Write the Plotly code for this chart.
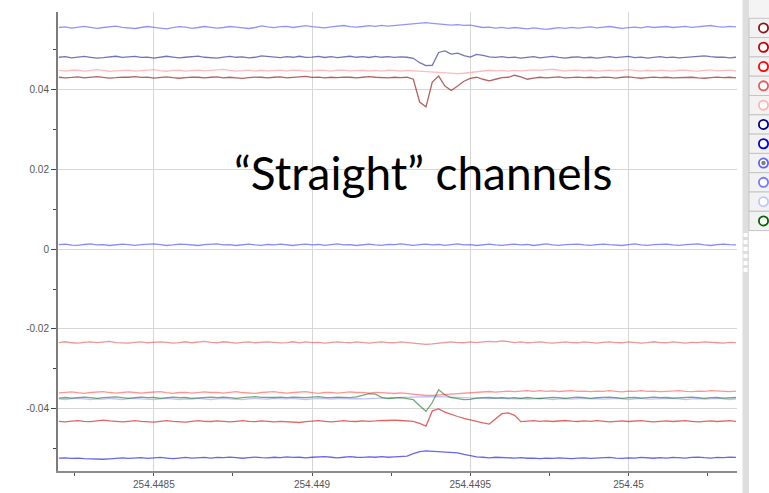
import numpy as np
import plotly.graph_objects as go

# sample times (shared by every channel)
t_start = 254.44820
t_step = 0.00002
n_samples = 108
t = t_start + t_step * np.arange(n_samples)

# channel readings, top of the plot to bottom
ch_lightblue = [
    .05545, .05560, .05530, .05550, .05575, .05550, .05525, .05545, .05565, .05580, .05550, .05540,
    .05520, .05545, .05570, .05550, .05525, .05510, .05540, .05565, .05555, .05525, .05545, .05570,
    .05550, .05530, .05545, .05570, .05555, .05540, .05520, .05545, .05585, .05560, .05540, .05565,
    .05575, .05545, .05560, .05590, .05565, .05550, .05535, .05560, .05575, .05595, .05565, .05555,
    .05570, .05590, .05575, .05600, .05580, .05595, .05605, .05625, .05640, .05655, .05665, .05650,
    .05630, .05620, .05605, .05615, .05600, .05605, .05570, .05545, .05555, .05530, .05550, .05525,
    .05545, .05530, .05510, .05535, .05515, .05500, .05520, .05540, .05525, .05550, .05530, .05545,
    .05560, .05535, .05550, .05570, .05545, .05525, .05540, .05555, .05535, .05565, .05545, .05550,
    .05570, .05545, .05565, .05575, .05550, .05570, .05580, .05595, .05565, .05555, .05575, .05560,
]
ch_navy = [
    .04800, .04815, .04785, .04795, .04820, .04800, .04780, .04790, .04810, .04825, .04795, .04800,
    .04820, .04795, .04805, .04780, .04800, .04825, .04805, .04785, .04800, .04810, .04830, .04800,
    .04795, .04780, .04805, .04820, .04800, .04810, .04785, .04800, .04835, .04815, .04800, .04790,
    .04815, .04800, .04825, .04795, .04805, .04820, .04795, .04815, .04790, .04805, .04825, .04800,
    .04815, .04795, .04820, .04800, .04815, .04795, .04810, .04800, .04775, .04665, .04590, .04600,
    .04920, .04960, .04880, .04905, .04840, .04805, .04870, .04845, .04810, .04795, .04815, .04790,
    .04805, .04780, .04800, .04815, .04785, .04800, .04820, .04795, .04780, .04800, .04810, .04785,
    .04800, .04780, .04805, .04815, .04790, .04800, .04820, .04790, .04805, .04780, .04800, .04815,
    .04790, .04805, .04785, .04800, .04815, .04825, .04835, .04815, .04800, .04805, .04785, .04800,
]
ch_pink = [
    .04470, .04455, .04475, .04480, .04455, .04465, .04490, .04470, .04450, .04460, .04475, .04480,
    .04455, .04470, .04475, .04490, .04465, .04450, .04470, .04480, .04455, .04465, .04480, .04460,
    .04470, .04480, .04495, .04470, .04455, .04465, .04480, .04455, .04475, .04460, .04470, .04480,
    .04460, .04475, .04470, .04455, .04460, .04480, .04470, .04455, .04475, .04480, .04460, .04470,
    .04475, .04460, .04470, .04455, .04475, .04470, .04455, .04470, .04460, .04455, .04445, .04435,
    .04420, .04400, .04390, .04390, .04400, .04420, .04440, .04460, .04475, .04460, .04470, .04455,
    .04470, .04460, .04475, .04485, .04470, .04490, .04500, .04475, .04460, .04470, .04480, .04460,
    .04475, .04455, .04470, .04480, .04460, .04470, .04490, .04470, .04455, .04475, .04460, .04480,
    .04470, .04455, .04475, .04480, .04460, .04455, .04470, .04485, .04460, .04475, .04480, .04460,
]
ch_darkred = [
    .04300, .04285, .04295, .04310, .04285, .04300, .04315, .04295, .04280, .04290, .04305, .04300,
    .04315, .04295, .04305, .04280, .04300, .04310, .04290, .04275, .04290, .04305, .04300, .04285,
    .04300, .04310, .04285, .04300, .04285, .04270, .04290, .04305, .04300, .04285, .04300, .04310,
    .04285, .04300, .04310, .04320, .04295, .04305, .04285, .04300, .04290, .04305, .04300, .04285,
    .04300, .04315, .04300, .04295, .04285, .04300, .04290, .04300, .04250, .03680, .03560, .04180,
    .04330, .04080, .03970, .04080, .04200, .04270, .04300, .04250, .04210, .04250, .04290, .04300,
    .04350, .04310, .04250, .04280, .04300, .04285, .04300, .04310, .04285, .04300, .04305, .04290,
    .04300, .04285, .04305, .04295, .04280, .04300, .04310, .04290, .04275, .04290, .04305, .04290,
    .04300, .04285, .04290, .04305, .04300, .04285, .04275, .04290, .04305, .04290, .04300, .04285,
]
ch_midblue = [
    .00110, .00125, .00100, .00095, .00115, .00130, .00105, .00110, .00090, .00105, .00125, .00110,
    .00095, .00110, .00115, .00130, .00110, .00090, .00105, .00125, .00120, .00105, .00090, .00110,
    .00115, .00130, .00105, .00110, .00090, .00110, .00125, .00105, .00095, .00115, .00105, .00125,
    .00110, .00090, .00110, .00125, .00105, .00115, .00095, .00110, .00130, .00105, .00110, .00090,
    .00110, .00125, .00105, .00095, .00115, .00110, .00130, .00110, .00095, .00110, .00125, .00105,
    .00115, .00095, .00110, .00130, .00105, .00110, .00090, .00115, .00125, .00105, .00095, .00110,
    .00125, .00105, .00115, .00090, .00110, .00130, .00105, .00095, .00110, .00115, .00125, .00105,
    .00095, .00110, .00125, .00110, .00105, .00090, .00110, .00130, .00105, .00095, .00110, .00115,
    .00125, .00105, .00095, .00110, .00115, .00130, .00105, .00090, .00110, .00125, .00110, .00105,
]
ch_salmon = [
    -.02340, -.02320, -.02345, -.02355, -.02335, -.02320, -.02340, -.02325, -.02310, -.02340, -.02345, -.02355,
    -.02335, -.02320, -.02345, -.02340, -.02320, -.02335, -.02355, -.02340, -.02320, -.02345, -.02325, -.02310,
    -.02335, -.02345, -.02320, -.02340, -.02355, -.02335, -.02320, -.02345, -.02340, -.02320, -.02335, -.02350,
    -.02340, -.02320, -.02345, -.02325, -.02340, -.02335, -.02355, -.02340, -.02320, -.02335, -.02345, -.02325,
    -.02340, -.02355, -.02335, -.02320, -.02340, -.02345, -.02325, -.02340, -.02355, -.02365, -.02385, -.02375,
    -.02355, -.02340, -.02325, -.02340, -.02345, -.02325, -.02340, -.02320, -.02310, -.02325, -.02300, -.02315,
    -.02340, -.02325, -.02345, -.02335, -.02320, -.02340, -.02355, -.02340, -.02325, -.02340, -.02345, -.02325,
    -.02340, -.02355, -.02335, -.02320, -.02340, -.02345, -.02325, -.02340, -.02355, -.02340, -.02320, -.02340,
    -.02345, -.02325, -.02340, -.02355, -.02335, -.02340, -.02320, -.02340, -.02345, -.02355, -.02335, -.02340,
]
ch_red = [
    -.03600, -.03585, -.03575, -.03595, -.03610, -.03590, -.03585, -.03570, -.03590, -.03605, -.03590, -.03575,
    -.03590, -.03605, -.03590, -.03585, -.03570, -.03595, -.03610, -.03590, -.03585, -.03605, -.03590, -.03575,
    -.03590, -.03585, -.03605, -.03590, -.03570, -.03590, -.03595, -.03610, -.03590, -.03585, -.03570, -.03590,
    -.03605, -.03590, -.03585, -.03570, -.03595, -.03610, -.03590, -.03585, -.03605, -.03590, -.03575, -.03590,
    -.03585, -.03605, -.03590, -.03595, -.03610, -.03615, -.03600, -.03615, -.03635, -.03650, -.03665, -.03660,
    -.03650, -.03640, -.03620, -.03610, -.03600, -.03585, -.03580, -.03575, -.03565, -.03580, -.03565, -.03555,
    -.03570, -.03555, -.03545, -.03560, -.03545, -.03560, -.03550, -.03565, -.03555, -.03545, -.03560, -.03555,
    -.03570, -.03555, -.03560, -.03545, -.03560, -.03575, -.03555, -.03560, -.03545, -.03560, -.03555, -.03570,
    -.03560, -.03550, -.03545, -.03560, -.03570, -.03555, -.03560, -.03545, -.03555, -.03565, -.03570, -.03555,
]
ch_paleblue = [
    -.03750, -.03765, -.03745, -.03735, -.03750, -.03765, -.03750, -.03755, -.03735, -.03750, -.03765, -.03745,
    -.03735, -.03750, -.03755, -.03770, -.03750, -.03735, -.03750, -.03765, -.03750, -.03755, -.03735, -.03750,
    -.03765, -.03750, -.03735, -.03750, -.03755, -.03770, -.03750, -.03735, -.03750, -.03755, -.03735, -.03750,
    -.03750, -.03735, -.03750, -.03765, -.03750, -.03735, -.03740, -.03755, -.03740, -.03735, -.03750, -.03740,
    -.03750, -.03740, -.03735, -.03730, -.03725, -.03720, -.03715, -.03710, -.03700, -.03695, -.03690, -.03690,
    -.03690, -.03700, -.03705, -.03710, -.03720, -.03730, -.03735, -.03740, -.03745, -.03730, -.03740, -.03745,
    -.03750, -.03740, -.03755, -.03750, -.03735, -.03750, -.03765, -.03750, -.03740, -.03755, -.03750, -.03735,
    -.03750, -.03740, -.03755, -.03750, -.03735, -.03750, -.03765, -.03750, -.03735, -.03755, -.03750, -.03740,
    -.03750, -.03735, -.03750, -.03765, -.03750, -.03740, -.03755, -.03750, -.03735, -.03750, -.03765, -.03750,
]
ch_green = [
    -.03730, -.03715, -.03730, -.03720, -.03705, -.03720, -.03735, -.03720, -.03715, -.03700, -.03720, -.03735,
    -.03720, -.03705, -.03720, -.03715, -.03735, -.03720, -.03705, -.03720, -.03715, -.03735, -.03720, -.03715,
    -.03705, -.03720, -.03705, -.03720, -.03735, -.03720, -.03705, -.03695, -.03710, -.03720, -.03715, -.03705,
    -.03720, -.03705, -.03710, -.03720, -.03705, -.03695, -.03710, -.03720, -.03705, -.03710, -.03720, -.03700,
    -.03660, -.03620, -.03630, -.03710, -.03740, -.03730, -.03720, -.03740, -.03770, -.03920, -.04060, -.03840,
    -.03520, -.03650, -.03720, -.03740, -.03770, -.03760, -.03730, -.03720, -.03715, -.03730, -.03720, -.03730,
    -.03720, -.03735, -.03715, -.03730, -.03740, -.03725, -.03710, -.03720, -.03735, -.03720, -.03705, -.03720,
    -.03735, -.03720, -.03710, -.03705, -.03720, -.03735, -.03720, -.03715, -.03730, -.03720, -.03705, -.03720,
    -.03715, -.03730, -.03720, -.03710, -.03705, -.03720, -.03735, -.03720, -.03715, -.03730, -.03720, -.03715,
]
ch_crimson = [
    -.04310, -.04325, -.04305, -.04295, -.04310, -.04320, -.04300, -.04280, -.04300, -.04315, -.04325, -.04310,
    -.04295, -.04310, -.04320, -.04330, -.04310, -.04295, -.04310, -.04315, -.04330, -.04310, -.04295, -.04310,
    -.04315, -.04300, -.04310, -.04325, -.04310, -.04295, -.04310, -.04320, -.04300, -.04310, -.04325, -.04310,
    -.04325, -.04335, -.04340, -.04320, -.04310, -.04295, -.04310, -.04325, -.04310, -.04295, -.04310, -.04315,
    -.04300, -.04310, -.04300, -.04285, -.04290, -.04280, -.04290, -.04300, -.04310, -.04360, -.04430, -.04050,
    -.04000, -.04080, -.04140, -.04190, -.04240, -.04280, -.04310, -.04350, -.04380, -.04250, -.04120, -.04100,
    -.04160, -.04320, -.04310, -.04295, -.04310, -.04300, -.04315, -.04300, -.04290, -.04305, -.04315, -.04300,
    -.04310, -.04295, -.04310, -.04325, -.04310, -.04300, -.04315, -.04310, -.04295, -.04310, -.04325, -.04310,
    -.04300, -.04315, -.04310, -.04295, -.04310, -.04325, -.04310, -.04300, -.04315, -.04310, -.04295, -.04310,
]
ch_blue = [
    -.05230, -.05225, -.05240, -.05230, -.05245, -.05255, -.05265, -.05260, -.05250, -.05240, -.05225, -.05240,
    -.05230, -.05220, -.05240, -.05230, -.05215, -.05230, -.05245, -.05230, -.05215, -.05230, -.05225, -.05215,
    -.05230, -.05215, -.05220, -.05205, -.05220, -.05235, -.05220, -.05205, -.05220, -.05225, -.05210, -.05220,
    -.05200, -.05215, -.05210, -.05225, -.05210, -.05205, -.05195, -.05210, -.05225, -.05210, -.05195, -.05210,
    -.05215, -.05200, -.05210, -.05195, -.05210, -.05200, -.05190, -.05180, -.05120, -.05070, -.05050, -.05060,
    -.05080, -.05080, -.05090, -.05100, -.05140, -.05170, -.05200, -.05210, -.05225, -.05210, -.05220, -.05225,
    -.05230, -.05220, -.05235, -.05230, -.05245, -.05230, -.05240, -.05225, -.05235, -.05245, -.05230, -.05225,
    -.05240, -.05230, -.05225, -.05215, -.05230, -.05240, -.05225, -.05230, -.05215, -.05230, -.05235, -.05220,
    -.05230, -.05215, -.05220, -.05230, -.05215, -.05205, -.05220, -.05230, -.05215, -.05220, -.05205, -.05215,
]

# drawing order and line colours
channels = [
    (ch_paleblue, "rgba(192,192,255,1)"),
    (ch_green, "rgba(0,100,0,0.55)"),
    (ch_red, "rgba(255,0,0,0.42)"),
    (ch_salmon, "rgba(224,80,80,0.6)"),
    (ch_crimson, "rgba(204,0,0,0.6)"),
    (ch_blue, "rgba(0,0,224,0.6)"),
    (ch_midblue, "rgba(96,96,255,0.75)"),
    (ch_pink, "rgba(255,170,170,0.8)"),
    (ch_darkred, "rgba(139,16,16,0.65)"),
    (ch_navy, "rgba(0,0,128,0.55)"),
    (ch_lightblue, "rgba(120,120,255,0.8)"),
]

# selector list on the right edge
legend_colors = ["#8b1414", "#c80000", "#ff0000", "#e06060", "#ffb4b4",
                 "#000080", "#0000e0", "#6060ff", "#7878ff", "#c4c4ff", "#006400"]
legend_selected = 7

x_ticks = [254.4485, 254.449, 254.4495, 254.45]
x_tick_text = ["254.4485", "254.449", "254.4495", "254.45"]
x_minor = [254.44825, 254.44875, 254.44925, 254.44975, 254.45025]
y_ticks = [0.04, 0.02, 0, -0.02, -0.04]
y_tick_text = ["0.04", "0.02", "0", "-0.02", "-0.04"]
y_minor = [0.05, 0.03, 0.01, -0.01, -0.03, -0.05]

W, H = 769, 493
L, R, T, B = 58, 32, 12, 22
pw, ph = W - L - R, H - T - B


def px(xp):
    return (xp - L) / pw


def py(yp):
    return (H - B - yp) / ph


fig = go.Figure()
for vals, col in channels:
    fig.add_trace(go.Scatter(x=t, y=vals, mode="lines",
                             line=dict(color=col, width=1.3),
                             hoverinfo="skip", showlegend=False))

shapes = []
# scrollbar strip
shapes.append(dict(type="rect", xref="paper", yref="paper",
                   x0=px(742.5), x1=px(749), y0=py(H), y1=py(0),
                   fillcolor="#dedede", line=dict(width=0), layer="above"))
for gy in [233, 240, 247, 254, 261, 268]:
    shapes.append(dict(type="rect", xref="paper", yref="paper",
                       x0=px(743.5), x1=px(747.5), y0=py(gy + 4), y1=py(gy),
                       fillcolor="#ffffff", line=dict(width=0), layer="above"))
# header cell
shapes.append(dict(type="rect", xref="paper", yref="paper",
                   x0=px(749), x1=px(W + 2), y0=py(18.3), y1=py(0),
                   fillcolor="#f4f4f4", line=dict(width=0), layer="above"))
row_top = 18.3
row_h = 19.3
for i, c in enumerate(legend_colors):
    y0 = row_top + i * row_h
    shapes.append(dict(type="rect", xref="paper", yref="paper",
                       x0=px(749), x1=px(W + 2), y0=py(y0 + row_h), y1=py(y0),
                       fillcolor="#f2f2f2", line=dict(color="#c4c4c4", width=1),
                       layer="above"))
    cy = py(y0 + row_h / 2)
    shapes.append(dict(type="circle", xref="paper", yref="paper",
                       xsizemode="pixel", ysizemode="pixel",
                       xanchor=px(763.5), yanchor=cy,
                       x0=-4.6, x1=4.6, y0=-4.6, y1=4.6,
                       fillcolor="#ffffff", line=dict(color=c, width=1.8),
                       layer="above"))
    if i == legend_selected:
        shapes.append(dict(type="circle", xref="paper", yref="paper",
                           xsizemode="pixel", ysizemode="pixel",
                           xanchor=px(763.5), yanchor=cy,
                           x0=-2.2, x1=2.2, y0=-2.2, y1=2.2,
                           fillcolor="#808080", line=dict(width=0),
                           layer="above"))

fig.update_layout(
    width=W, height=H,
    margin=dict(l=L, r=R, t=T, b=B, pad=0, autoexpand=False),
    paper_bgcolor="white", plot_bgcolor="white",
    showlegend=False,
    shapes=shapes,
    xaxis=dict(
        range=[254.448197, 254.450343], automargin=False,
        tickmode="array", tickvals=x_ticks, ticktext=x_tick_text,
        ticks="outside", ticklen=3, tickcolor="#555555",
        minor=dict(tickmode="array", tickvals=x_minor, ticks="outside",
                   ticklen=3, tickcolor="#555555", showgrid=False),
        showgrid=True, gridcolor="#d6d6d6", gridwidth=1,
        showline=True, linecolor="#8c8c8c", linewidth=1.5,
        zeroline=False,
        tickfont=dict(family="Liberation Sans", size=10, color="#555555"),
    ),
    yaxis=dict(
        range=[-0.05554, 0.05933], automargin=False,
        tickmode="array", tickvals=y_ticks, ticktext=y_tick_text,
        ticks="outside", ticklen=5, tickcolor="#444444",
        minor=dict(tickmode="array", tickvals=y_minor, ticks="outside",
                   ticklen=3, tickcolor="#444444", showgrid=False),
        showgrid=True, gridcolor="#d6d6d6", gridwidth=1,
        showline=True, linecolor="#7c7c7c", linewidth=2,
        zeroline=False,
        tickfont=dict(family="Liberation Sans", size=10, color="#555555"),
    ),
    annotations=[dict(
        text="\u201cStraight\u201d channels",
        xref="paper", yref="paper", x=px(423), y=py(172),
        xanchor="center", yanchor="middle", showarrow=False,
        font=dict(family="Lato", size=46, color="#000000"),
    )],
)

fig.write_html("out.html")
